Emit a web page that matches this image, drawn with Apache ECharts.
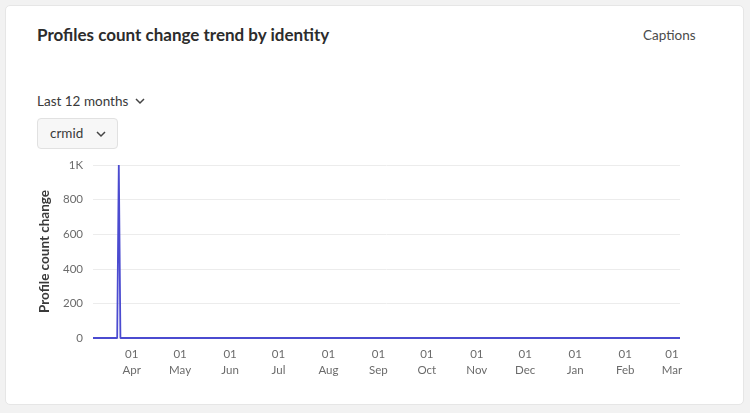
<!DOCTYPE html>
<html>
<head>
<meta charset="utf-8">
<script src="https://cdn.jsdelivr.net/npm/echarts@6/dist/echarts.min.js"></script>
<style>
html,body{margin:0;padding:0;width:750px;height:413px;background:#f2f2f2;font-family:Lato,"Open Sans",sans-serif;overflow:hidden}
#card{position:absolute;left:5px;top:5px;width:739px;height:400px;background:#fff;border:1px solid #e6e6e6;border-radius:5px;box-sizing:border-box}
#title{position:absolute;left:37px;top:24px;font-size:17px;font-weight:700;color:#2c2c2c}
#captions{position:absolute;left:643px;top:27px;font-size:13.5px;color:#4b4b4b}
#range{position:absolute;left:37px;top:93px;font-size:13.5px;color:#3a3a3a}
#id{position:absolute;left:37px;top:118px;width:81px;height:31px;background:#f7f7f7;border:1px solid #e1e1e1;border-radius:4px;box-sizing:border-box;font-size:13.5px;color:#3a3a3a}
#id span{position:absolute;left:12px;top:6px}
svg.chev{position:absolute}
#chart{position:absolute;left:0;top:0;width:750px;height:413px}
</style>
</head>
<body>
<div id="card"></div>
<div id="title">Profiles count change trend by identity</div>
<div id="captions">Captions</div>
<div id="range">Last 12 months</div>
<svg class="chev" style="left:135px;top:97px" width="10" height="8"><polyline points="1,2 5,6 9,2" fill="none" stroke="#444" stroke-width="1.5"/></svg>
<div id="id"><span>crmid</span><svg class="chev" style="left:58px;top:11px" width="10" height="8"><polyline points="1,2 5,6 9,2" fill="none" stroke="#444" stroke-width="1.5"/></svg></div>
<div id="chart"></div>
<script>
const startDate = '2023-03-08';
const endDate = '2024-03-06';
const dates = ['2023-03-08', '2023-03-23', '2023-03-24', '2023-03-25', '2024-03-06'];
const values = [0, 0, 1000, 0, 0];
const yTicks = [0, 200, 400, 600, 800, 1000];
const yAxisName = 'Profile count change';

const chart = echarts.init(document.getElementById('chart'));
chart.setOption({
  animation: false,
  grid: {left: 93, right: 70, top: 165, bottom: 75},
  xAxis: {
    type: 'time',
    min: startDate,
    max: endDate,
    minInterval: 28 * 86400000,
    maxInterval: 31 * 86400000,
    axisLine: {show: false},
    axisTick: {show: false},
    splitLine: {show: false},
    axisLabel: {
      formatter: '{dd}\n{MMM}',
      color: '#6b6b6b',
      fontSize: 11.5,
      fontFamily: 'Lato',
      lineHeight: 16,
      margin: 8,
      showMinLabel: false,
      showMaxLabel: false
    }
  },
  yAxis: {
    type: 'value',
    min: yTicks[0],
    max: yTicks[yTicks.length - 1],
    interval: 200,
    name: yAxisName,
    nameLocation: 'middle',
    nameGap: 30,
    nameTextStyle: {color: '#3a3a3a', fontSize: 13.5, fontWeight: 'bold', fontFamily: 'Lato'},
    axisLine: {show: false},
    axisTick: {show: false},
    splitLine: {lineStyle: {color: '#ececec', width: 1}},
    axisLabel: {
      color: '#6b6b6b', fontSize: 11.5, fontFamily: 'Lato', margin: 10,
      formatter: v => v >= 1000 ? (v / 1000) + 'K' : String(v)
    }
  },
  series: [{
    type: 'line',
    data: dates.map((d, i) => [d, values[i]]),
    showSymbol: false,
    lineStyle: {color: '#4b4bd0', width: 1.8},
    itemStyle: {color: '#4b4bd0'}
  }]
});
</script>
</body>
</html>
